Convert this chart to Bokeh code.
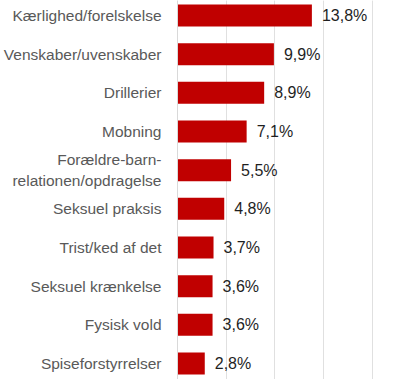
from bokeh.plotting import figure
from bokeh.models import ColumnDataSource, Range1d, FixedTicker, Grid
from bokeh.core.properties import value
from bokeh.embed import file_html
from bokeh.resources import INLINE

categories = [
    "Kærlighed/forelskelse",
    "Venskaber/uvenskaber",
    "Drillerier",
    "Mobning",
    "Forældre-barn-\nrelationen/opdragelse",
    "Seksuel praksis",
    "Trist/ked af det",
    "Seksuel krænkelse",
    "Fysisk vold",
    "Spiseforstyrrelser",
]
values = [13.8, 9.9, 8.9, 7.1, 5.5, 4.8, 3.7, 3.6, 3.6, 2.8]
grid_ticks = [0, 5, 10, 15, 20]

positions = list(range(len(categories)))
value_labels = [f"{v:.1f}".replace(".", ",") + "%" for v in values]

source = ColumnDataSource(dict(y=positions, v=values, lab=value_labels))

p = figure(
    width=400, height=379,
    output_backend="svg", toolbar_location=None,
    x_range=Range1d(0, 22.9),
    y_range=Range1d(9.414, -0.388),
    x_axis_location=None,
    min_border_left=176, min_border_right=0, min_border_top=0, min_border_bottom=0,
    outline_line_color=None,
)
p.ygrid.visible = False
p.add_layout(Grid(dimension=0, ticker=FixedTicker(ticks=grid_ticks),
                  grid_line_color="#e0e0e0", grid_line_width=1))

p.hbar(y="y", right="v", left=0, height=0.57, source=source,
       fill_color="#c00000", line_color=None)

p.text(x="v", y="y", text="lab", source=source, x_offset=10,
       text_baseline="middle", text_align="left",
       text_font=value("Liberation Sans"), text_font_size="16px",
       text_color="#1f1f1f")

ax = p.yaxis[0]
ax.ticker = FixedTicker(ticks=positions)
ax.major_label_overrides = {i: c for i, c in zip(positions, categories)}
ax.major_tick_line_color = None
ax.minor_tick_line_color = None
ax.major_tick_out = 0
ax.major_tick_in = 0
ax.axis_line_color = "#d9d9d9"
ax.major_label_standoff = 16
ax.major_label_text_font = "Liberation Sans"
ax.major_label_text_font_size = "15.5px"
ax.major_label_text_color = "#595959"

open("out.html", "w").write(file_html(p, INLINE))
